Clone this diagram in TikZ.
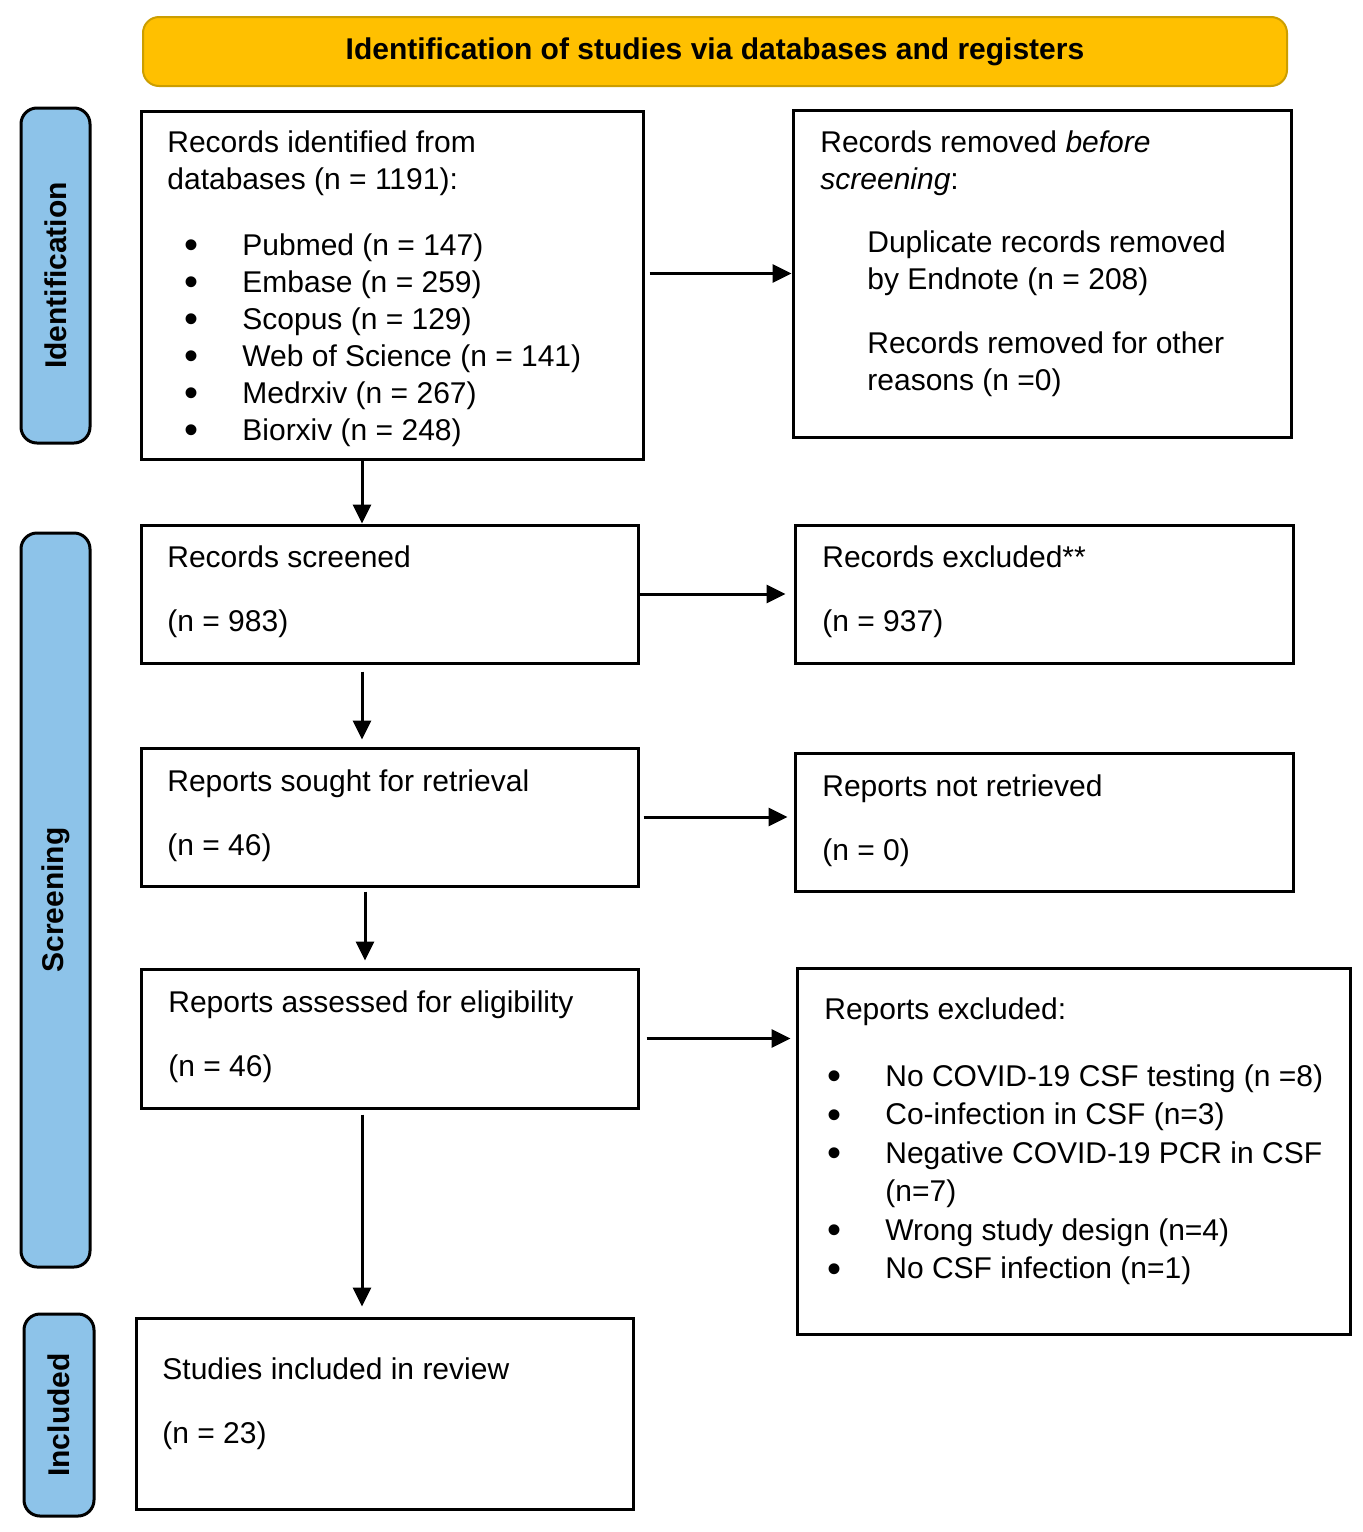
\documentclass[tikz,border=0pt]{standalone}
\usepackage{fontspec}
\setmainfont{Liberation Sans}
\usetikzlibrary{arrows.meta}
\usetikzlibrary{positioning}
\definecolor{headfill}{RGB}{255,192,0}
\definecolor{headline}{RGB}{204,158,0}
\definecolor{phasefill}{RGB}{141,195,233}
\newcommand{\bul}{\makebox[29pt][l]{\raisebox{-1.9pt}{\fontsize{20}{20}\selectfont\textbullet}}}

\begin{document}
\begin{tikzpicture}[x=0.5pt,y=-0.5pt,
    box/.style={draw, line width=1.5pt, inner sep=0pt},
    txt/.style={anchor=north west, inner sep=0pt, align=left, font=\fontsize{15}{18.5}\selectfont},
    phase/.style={draw, line width=1.5pt, fill=phasefill, rounded corners=8pt, rotate=90, minimum height=34.5pt, inner sep=0pt, font=\fontsize{15}{18}\selectfont\bfseries},
    arr/.style={line width=1.5pt, -{Triangle[length=9.5pt,width=9pt]}}]
    \useasboundingbox (0,0) rectangle (1363,1532);
    % header and phases
    \node[draw=headline, line width=1pt, fill=headfill, rounded corners=8pt, minimum width=572pt, minimum height=34.5pt, font=\fontsize{15}{18}\selectfont\bfseries] (head) at (715,51.5) {Identification of studies via databases and registers};
    \node[phase, minimum width=167.5pt] (idphase) at (55.5,275.5) {Identification};
    \node[phase, minimum width=367pt] (scphase) at (55.5,900) {Screening};
    \node[phase, minimum width=101pt, minimum height=35pt] (inphase) at (59,1415) {Included};
    % boxes
    \node[box, minimum width=251pt, minimum height=174pt] (ident) at (392,285) {};
    \node[box, minimum width=249pt, minimum height=163.5pt] (removed) at (1042,273.5) {};
    \node[box, minimum width=248.5pt, minimum height=69pt] (screened) at (389.5,594) {};
    \node[box, minimum width=249pt, minimum height=69pt] (excluded) at (1044,594) {};
    \node[box, minimum width=248.5pt, minimum height=69pt] (sought) at (389.5,817) {};
    \node[box, minimum width=249pt, minimum height=69pt] (notretr) at (1044,822) {};
    \node[box, minimum width=248.5pt, minimum height=69.5pt] (assessed) at (389.5,1038.5) {};
    \node[box, minimum width=276.5pt, minimum height=183pt] (repexcl) at (1073.5,1151) {};
    \node[box, minimum width=248.5pt, minimum height=95.5pt] (included) at (384.5,1413.5) {};
    % texts
    \node[txt] (identtxt) at (167,130) {Records identified from\\ databases (n = 1191):\\[14.5pt]
        \hspace*{8.5pt}\bul Pubmed (n = 147)\\
        \hspace*{8.5pt}\bul Embase (n = 259)\\
        \hspace*{8.5pt}\bul Scopus (n = 129)\\
        \hspace*{8.5pt}\bul Web of Science (n = 141)\\
        \hspace*{8.5pt}\bul Medrxiv (n = 267)\\
        \hspace*{8.5pt}\bul Biorxiv (n = 248)};
    \node[txt] (removedtxt) at (820,130) {Records removed \emph{before}\\ \emph{screening}:\\[13pt]
        \hspace*{23.5pt}Duplicate records removed\\
        \hspace*{23.5pt}by Endnote (n = 208)\\[13.5pt]
        \hspace*{23.5pt}Records removed for other\\
        \hspace*{23.5pt}reasons (n =0)};
    \node[txt] (screenedtxt) at (167,545) {Records screened\\[13.5pt](n = 983)};
    \node[txt] (excludedtxt) at (822,545) {Records excluded**\\[13.5pt](n = 937)};
    \node[txt] (soughttxt) at (167,769) {Reports sought for retrieval\\[13.5pt](n = 46)};
    \node[txt] (notretrtxt) at (822,774) {Reports not retrieved\\[13.5pt](n = 0)};
    \node[txt] (assessedtxt) at (168,990) {Reports assessed for eligibility\\[13.5pt](n = 46)};
    \node[txt, font=\fontsize{15}{19.25}\selectfont] (repexcltxt) at (824,997) {Reports excluded:\\[14.25pt]
        \hspace*{1.5pt}\bul No COVID-19 CSF testing (n =8)\\
        \hspace*{1.5pt}\bul Co-infection in CSF (n=3)\\
        \hspace*{1.5pt}\bul Negative COVID-19 PCR in CSF\\
        \hspace*{30.5pt}(n=7)\\
        \hspace*{1.5pt}\bul Wrong study design (n=4)\\
        \hspace*{1.5pt}\bul No CSF infection (n=1)};
    \node[txt] (includedtxt) at (162,1357) {Studies included in review\\[13.5pt](n = 23)};
    % arrows
    \draw[arr, shorten <=2.5pt] (ident.east |- removed.west) -- (removed.west);
    \draw[arr, shorten >=4pt] (screened.east) -- (excluded.west);
    \draw[arr, shorten <=2pt, shorten >=3pt] (sought.east) -- (sought.east -| notretr.west);
    \draw[arr, shorten <=3.5pt, shorten >=2.5pt] (assessed.east) -- (assessed.east -| repexcl.west);
    \draw[arr] ([xshift=-15pt]ident.south) -- ([xshift=-15pt]ident.south |- screened.north);
    \draw[arr, shorten <=3.5pt, shorten >=3.5pt] ([xshift=-13.75pt]screened.south) -- ([xshift=-13.75pt]screened.south |- sought.north);
    \draw[arr, shorten <=2pt, shorten >=3.5pt] ([xshift=-12.25pt]sought.south) -- ([xshift=-12.25pt]sought.south |- assessed.north);
    \draw[arr, shorten <=2.5pt, shorten >=5pt] ([xshift=-13.75pt]assessed.south) -- ([xshift=-13.75pt]assessed.south |- included.north);
\end{tikzpicture}
\end{document}
